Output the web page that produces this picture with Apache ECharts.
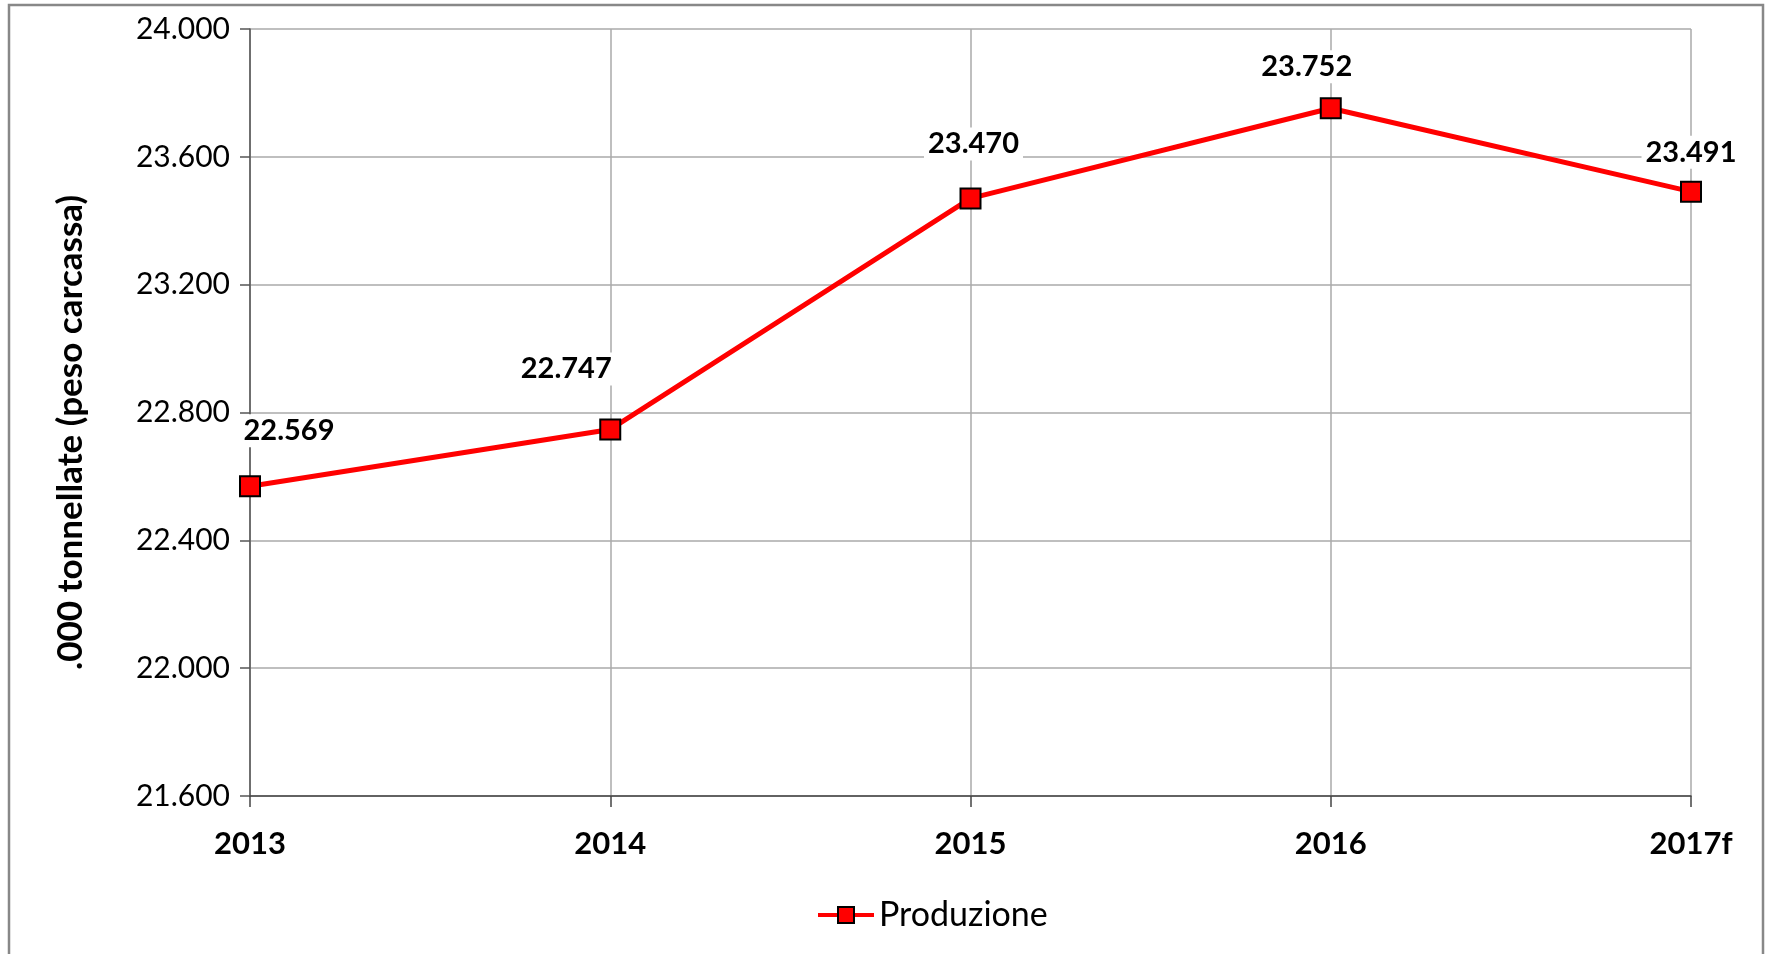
<!DOCTYPE html>
<html lang="it">
<head>
    <meta charset="UTF-8">
    <title>Produzione</title>
    <script src="https://cdn.jsdelivr.net/npm/echarts@6/dist/echarts.min.js"></script>
    <style>
        html, body { margin: 0; padding: 0; background: #fff; }
        .chart { width: 1769px; height: 954px; }
    </style>
</head>
<body>
    <div class="chart"></div>
<script>
    const anni = ['2013', '2014', '2015', '2016', '2017f']
    const produzione = [22569, 22747, 23470, 23752, 23491]
    const yMin = 21600
    const yMax = 24000
    const yStep = 400

    // spostamento delle etichette dei valori rispetto al punto
    const labelShift = [[39, -28], [-44, -33], [3, -27], [-24, -14], [0, -12]]

    // 22569 -> "22.569"
    function fmt(v) {
        return String(Math.round(v)).replace(/\B(?=(\d{3})+(?!\d))/g, '.')
    }

    const font = 'Lato, "Open Sans", sans-serif'

    let chart = echarts.init(document.querySelector('.chart'))
    let option = {
        animation: false,
        backgroundColor: '#fff',
        textStyle: { fontFamily: font },
        graphic: [{
            type: 'rect',
            shape: { x: 9, y: 5, width: 1754, height: 980 },
            style: { fill: 'none', stroke: '#888', lineWidth: 2.5 }
        }],
        grid: { left: 250, right: 78, top: 29, bottom: 158 },
        legend: {
            data: ['Produzione'],
            left: 811,
            top: 893,
            itemWidth: 56,
            itemHeight: 20,
            itemGap: 6,
            lineStyle: { width: 4 },
            textStyle: { fontSize: 34, color: '#000', fontFamily: font }
        },
        xAxis: {
            type: 'category',
            data: anni,
            boundaryGap: false,
            axisLine: { lineStyle: { color: '#444', width: 1.5 } },
            axisTick: { show: true, length: 11, lineStyle: { color: '#444', width: 1.5 } },
            axisLabel: { fontSize: 31, fontWeight: 'bold', color: '#000', margin: 32 },
            splitLine: { show: true, lineStyle: { color: '#aaa', width: 1.5 } }
        },
        yAxis: {
            type: 'value',
            min: yMin,
            max: yMax,
            interval: yStep,
            name: '.000 tonnellate (peso carcassa)',
            nameLocation: 'middle',
            nameRotate: 90,
            nameGap: 162,
            nameTextStyle: { fontSize: 35, fontWeight: 'bold', color: '#000', padding: [0, 0, 0, -40] },
            axisLine: { show: true, lineStyle: { color: '#555', width: 1.5 } },
            axisTick: { show: true, length: 10, lineStyle: { color: '#555', width: 1.5 } },
            axisLabel: { fontSize: 30, color: '#000', margin: 20, formatter: fmt },
            splitLine: { show: true, lineStyle: { color: '#aaa', width: 1.5 } }
        },
        series: [{
            name: 'Produzione',
            type: 'line',
            data: produzione.map((v, i) => ({
                value: v,
                label: { offset: labelShift[i] }
            })),
            symbol: 'rect',
            symbolSize: 20,
            lineStyle: { color: '#ff0000', width: 5 },
            itemStyle: { color: '#ff0000', borderColor: '#000', borderWidth: 2 },
            label: {
                show: true,
                position: 'top',
                distance: 0,
                fontSize: 29,
                fontWeight: 'bold',
                color: '#000',
                backgroundColor: '#fff',
                padding: [2, 4],
                formatter: p => fmt(p.value)
            }
        }]
    }
    chart.setOption(option)
</script>
</body>
</html>
